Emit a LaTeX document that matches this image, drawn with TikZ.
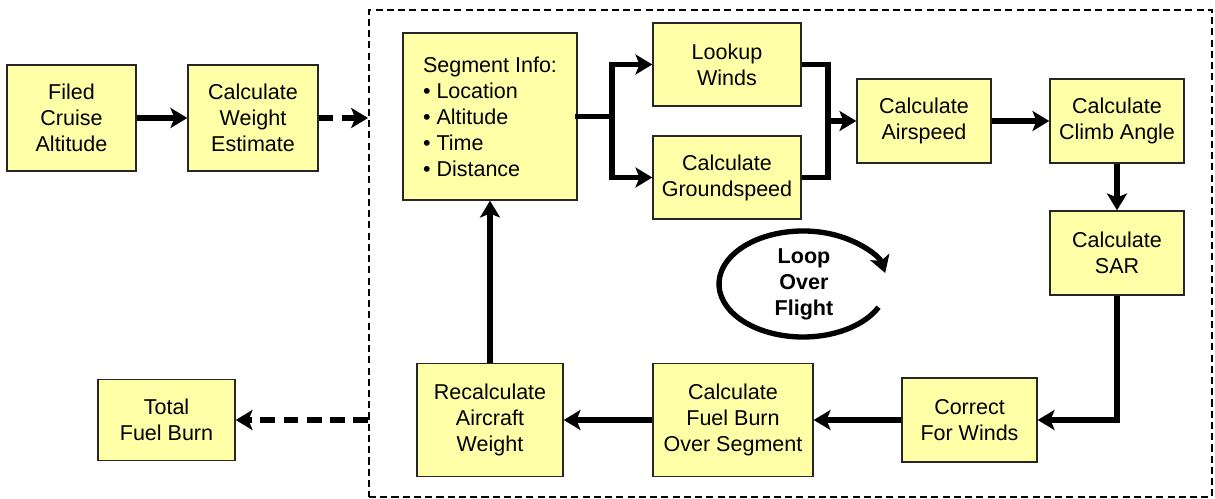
\documentclass[tikz,border=0pt]{standalone}
\usepackage{fontspec}
\setmainfont{Liberation Sans}
\usetikzlibrary{arrows.meta}
\definecolor{boxfill}{RGB}{255,255,168}

\begin{document}
\begin{tikzpicture}[
    box/.style={draw=black!85, line width=1pt, fill=boxfill, align=center,
      inner sep=0pt, font=\fontsize{15.3}{18.5}\selectfont},
    link/.style={line width=3.8pt},
    flow/.style={link, -{Stealth[length=0.42cm, width=0.5cm, inset=0.1cm]}},
    dflow/.style={flow, dash pattern=on 10.5pt off 6pt}
  ]
  \useasboundingbox (0,0) rectangle (30.375,12.475);
  % loop frame
  \node[draw, line width=1.4pt, dash pattern=on 5pt off 3pt, inner sep=0pt,
    minimum width=21.075cm, minimum height=12.175cm] (frame) at (19.7625,6.1375) {};

  % outside the loop
  \node[box, minimum width=3.225cm, minimum height=2.65cm] (alt) at (1.7875,9.525) {Filed\\Cruise\\Altitude};
  \node[box, minimum width=3.25cm, minimum height=2.65cm] (wgt) at (6.325,9.525) {Calculate\\Weight\\Estimate};
  \node[box, minimum width=3.425cm, minimum height=2.025cm] (total) at (4.1625,1.975) {Total\\Fuel Burn};

  % inside the loop
  \node[box, align=left, minimum width=4.35cm, minimum height=4.175cm] (seg) at (12.25,9.5625)
    {Segment Info:\\\textbullet\ Location\\\textbullet\ Altitude\\\textbullet\ Time\\\textbullet\ Distance};
  \node[box, minimum width=3.7cm, minimum height=2.075cm] (winds) at (18.175,10.8625) {Lookup\\Winds};
  \node[box, minimum width=3.7cm, minimum height=2.075cm] (gnd) at (18.175,8.0375) {Calculate\\Groundspeed};
  \node[box, minimum width=3.35cm, minimum height=2.1cm] (air) at (23.1,9.45) {Calculate\\Airspeed};
  \node[box, minimum width=3.35cm, minimum height=2.1cm] (climb) at (27.925,9.45) {Calculate\\Climb Angle};
  \node[box, minimum width=3.35cm, minimum height=2.1cm] (sar) at (27.925,6.15) {Calculate\\SAR};
  \node[box, minimum width=3.375cm, minimum height=2.1cm] (corr) at (24.2375,1.975) {Correct\\For Winds};
  \node[box, minimum width=4cm, minimum height=2.825cm] (burn) at (18.325,1.975) {Calculate\\Fuel Burn\\Over Segment};
  \node[box, minimum width=3.65cm, minimum height=2.825cm] (recalc) at (12.25,1.975) {Recalculate\\Aircraft\\Weight};

  \coordinate (split) at (15.3,9.5625);
  \coordinate (join) at (20.7,9.45);

  \draw[flow] (alt) -- (wgt);
  \draw[dflow] (wgt.east) -- (wgt.east -| frame.west);
  \draw[link, line cap=rect] (seg.east) -- (split);
  \draw[flow] (split) |- (winds.west);
  \draw[flow] (split) |- (gnd.west);
  \draw[link] (winds.east) -| (join) |- (gnd.east);
  \draw[flow] (join) -- (air.west);
  \draw[flow] (air) -- (climb);
  \draw[flow] (climb) -- (sar);
  \draw[flow] (sar.south) |- (corr.east);
  \draw[flow] (corr) -- (burn);
  \draw[flow] (burn) -- (recalc);
  \draw[flow] (recalc) -- (seg);
  \draw[dflow] (recalc.west -| frame.west) -- (total.east);

  % loop symbol
  \coordinate (loopc) at (20.075,5.375);
  \draw[flow] ([shift={(-26:2.1cm and 1.325cm)}]loopc)
    arc[start angle=-26, end angle=-348, x radius=2.1cm, y radius=1.325cm];
  \node[align=center, font=\bfseries\fontsize{15.3}{18.5}\selectfont] (loop) at (20.1,5.375) {Loop\\Over\\Flight};
\end{tikzpicture}
\end{document}
